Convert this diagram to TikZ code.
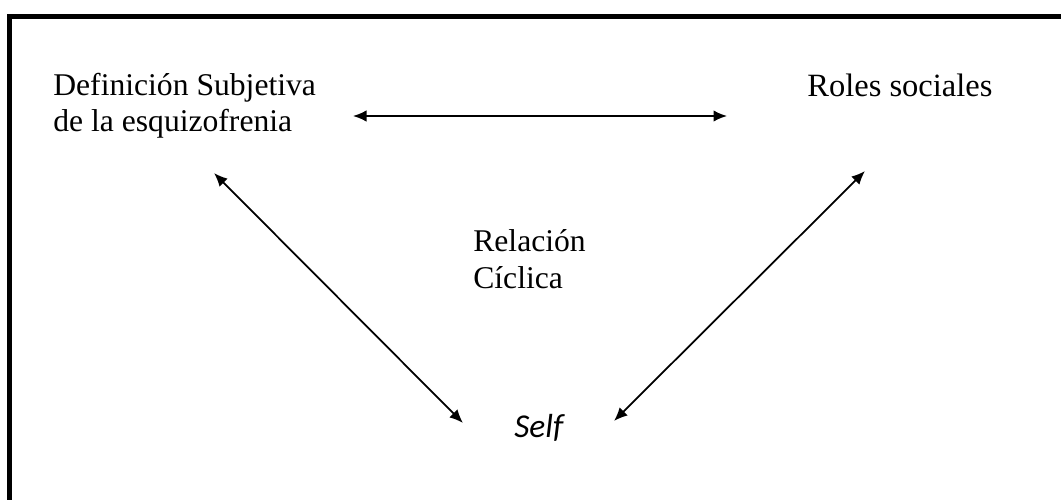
\documentclass[tikz,border=0pt]{standalone}
\usepackage{fontspec}
\setmainfont{Liberation Serif}
\newfontfamily\selffont{Carlito}
\usetikzlibrary{arrows.meta}

\tikzset{
	label/.style={inner sep=0pt, anchor=base west, align=left, font=\fontsize{18}{21}\selectfont},
	bothway/.style={line width=1pt, {Latex[length=0.27cm,width=0.23cm]}-{Latex[length=0.27cm,width=0.23cm]}}
}

\begin{document}
\begin{tikzpicture}[x=0.02cm,y=-0.02cm]
		\useasboundingbox (0,0) rectangle (1061,500);
		\clip (0,0) rectangle (1061,500);
		\draw[line width=3pt] (9.5,16.5) rectangle (1080,520);
		% two-line nodes: base is on the last line
		\node[label] (subjetiva) at (53,132) {Definición Subjetiva\\de la esquizofrenia};
		\node[label, font=\fontsize{18.5}{21}\selectfont] (roles) at (807,96) {Roles sociales};
		\node[label] (ciclica) at (473,288) {Relación\\Cíclica};
		\node[label, font=\fontsize{19}{21}\selffont\itshape] (self) at (514,437) {Self};
		\coordinate (subjetiva-r) at (353,116);
		\coordinate (roles-l) at (727,116);
		\coordinate (subjetiva-b) at (214,173);
		\coordinate (self-l) at (463,423);
		\coordinate (roles-b) at (865,171);
		\coordinate (self-r) at (614,421);
		\draw[bothway] (subjetiva-r) -- (roles-l);
		\draw[bothway] (subjetiva-b) -- (self-l);
		\draw[bothway] (roles-b) -- (self-r);
	\end{tikzpicture}
\end{document}
